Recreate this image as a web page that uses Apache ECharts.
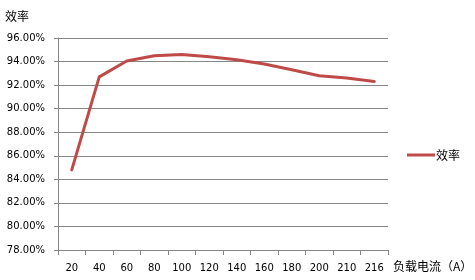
<!DOCTYPE html>
<html><head><meta charset="utf-8">
<script src="https://cdn.jsdelivr.net/npm/echarts@6/dist/echarts.min.js"></script>
<style>html,body{margin:0;padding:0;background:#fff}#c{width:475px;height:280px}</style>
</head><body><div id="c"></div>
<script>
var categories = ['20','40','60','80','100','120','140','160','180','200','210','216'];
var efficiency = [84.8, 92.7, 94.05, 94.5, 94.6, 94.4, 94.15, 93.8, 93.3, 92.8, 92.6, 92.3];
var seriesName = '效率';
var yTitle = '效率';
var xTitle = '负载电流（A）';

var chart = echarts.init(document.getElementById('c'));
var font = '"DejaVu Sans", Verdana, sans-serif';
var cjk = '"Noto Sans CJK SC", sans-serif';
chart.setOption({
  animation: false,
  grid: {left: 58, right: 87, top: 38, bottom: 30},
  graphic: [
    {type: 'text', left: 5, top: 10, style: {text: yTitle, font: '12px ' + cjk, fill: '#000'}},
    {type: 'text', left: 393, top: 260, style: {text: xTitle, font: '12px ' + cjk, fill: '#000'}}
  ],
  legend: {
    right: 10, top: 144, orient: 'vertical',
    itemWidth: 28, itemHeight: 3, itemGap: 4,
    icon: 'rect',
    textStyle: {fontFamily: cjk, fontSize: 12, color: '#000', padding: [0,0,0,-4]},
    data: [seriesName]
  },
  xAxis: {
    type: 'category', data: categories, boundaryGap: true,
    axisLine: {lineStyle: {color: '#868686', width: 1}},
    axisTick: {show: true, length: 5, lineStyle: {color: '#868686'}},
    axisLabel: {color: '#000', fontFamily: font, fontSize: 10, margin: 13}
  },
  yAxis: {
    type: 'value', min: 78, max: 96, interval: 2,
    axisLine: {show: true, lineStyle: {color: '#868686', width: 1}},
    axisTick: {show: true, length: 4, inside: false, lineStyle: {color: '#868686'}},
    splitLine: {lineStyle: {color: '#868686', width: 1}},
    axisLabel: {color: '#000', fontFamily: font, fontSize: 10, margin: 13,
      formatter: function(v){ return v.toFixed(2) + '%'; }}
  },
  series: [{
    name: seriesName, type: 'line', data: efficiency,
    smooth: false, symbol: 'none',
    lineStyle: {color: '#BE4B48', width: 3, join: 'round', cap: 'round'},
    itemStyle: {color: '#BE4B48'}
  }]
});
</script></body></html>
